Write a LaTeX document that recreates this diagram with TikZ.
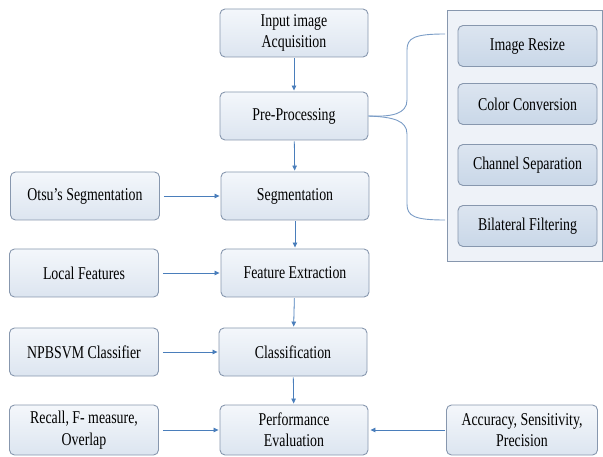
\documentclass[tikz,border=0pt]{standalone}
\usepackage{fontspec}
\setmainfont[FakeStretch=0.77]{Liberation Serif}
\newfontfamily\boxfont[FakeStretch=0.77]{Liberation Serif}
\usetikzlibrary{arrows.meta}
\definecolor{bord}{HTML}{8797AE}
\definecolor{arr}{HTML}{4A7EBB}
\definecolor{topc}{HTML}{F4F7FB}
\definecolor{botc}{HTML}{DCE5F0}
\definecolor{panelfill}{HTML}{EEF2F8}
\definecolor{innertop}{HTML}{DCE5F0}
\definecolor{innerbot}{HTML}{C9D7E8}
\definecolor{brace}{HTML}{7A9CC6}
\tikzset{
  box/.style={draw=bord, line width=0.9pt, rounded corners=5pt, top color=topc, bottom color=botc,
    align=center, font=\boxfont\fontsize{18}{21.5}\selectfont, inner sep=2pt, minimum width=148pt, minimum height=48pt},
  inbox/.style={box, top color=innertop, bottom color=innerbot, minimum width=139pt, minimum height=41pt},
  conn/.style={draw=arr, line width=0.8pt, -{Triangle[length=5pt,width=4.5pt]}},
}
\begin{document}
\begin{tikzpicture}[x=1pt,y=-1pt]
\useasboundingbox (0,0) rectangle (603,457);
% panel
\draw[draw=bord, line width=0.9pt, fill=panelfill] (447,10) rectangle (602,261);
% main column
\node[box] (inp) at (294,33) {Input image\\Acquisition};
\node[box] (pre) at (294,116) {Pre-Processing};
\node[box] (seg) at (295,196) {Segmentation};
\node[box] (fe) at (295,273) {Feature Extraction};
\node[box] (cls) at (293,352) {Classification};
\node[box, minimum height=50pt] (perf) at (294,430) {Performance\\Evaluation};
% left column
\node[box, minimum width=149pt] (otsu) at (85,196) {Otsu’s Segmentation};
\node[box, minimum width=149pt] (loc) at (84,273) {Local Features};
\node[box, minimum width=149pt] (npb) at (84,352) {NPBSVM Classifier};
\node[box, minimum width=149pt, minimum height=50pt] (rec) at (84,430) {Recall, F- measure,\\Overlap};
% right
\node[box, minimum width=151pt, minimum height=50pt] (acc) at (522,430) {Accuracy, Sensitivity,\\Precision};
% panel inner boxes
\node[inbox] (rs) at (527.5,46) {Image Resize};
\node[inbox] (cc) at (527.5,104) {Color Conversion};
\node[inbox] (cs) at (527.5,165) {Channel Separation};
\node[inbox] (bf) at (527.5,226) {Bilateral Filtering};
% brace
\coordinate (bt) at (445,34);
\coordinate (bb) at (445,220);
\draw[draw=brace, line width=0.9pt] (pre.east) .. controls (392,117) and (407,114) .. (407,100)
  -- (407,50) .. controls (407,38) and (414,34) .. (bt);
\draw[draw=brace, line width=0.9pt] (pre.east) .. controls (392,117) and (407,120) .. (407,134)
  -- (407,204) .. controls (407,216) and (414,220) .. (bb);
% vertical arrows
\draw[conn, shorten <=1pt, shorten >=1pt] (inp) -- (pre);
\draw[conn, shorten <=1pt, shorten >=1pt] (pre) -- (seg);
\draw[conn, shorten <=1pt, shorten >=1pt] (seg) -- (fe);
\draw[conn, shorten <=1pt, shorten >=1pt] (fe) -- (cls);
\draw[conn, shorten <=1pt, shorten >=1pt] (cls) -- (perf);
% horizontal arrows
\draw[conn, shorten <=4pt, shorten >=1pt] (otsu) -- (seg);
\draw[conn, shorten <=4pt, shorten >=1pt] (loc) -- (fe);
\draw[conn, shorten <=4pt, shorten >=1pt] (npb) -- (cls);
\draw[conn, shorten <=4pt, shorten >=1pt] (rec) -- (perf);
\draw[conn, shorten <=1pt, shorten >=2pt] (acc) -- (perf);
\end{tikzpicture}
\end{document}
